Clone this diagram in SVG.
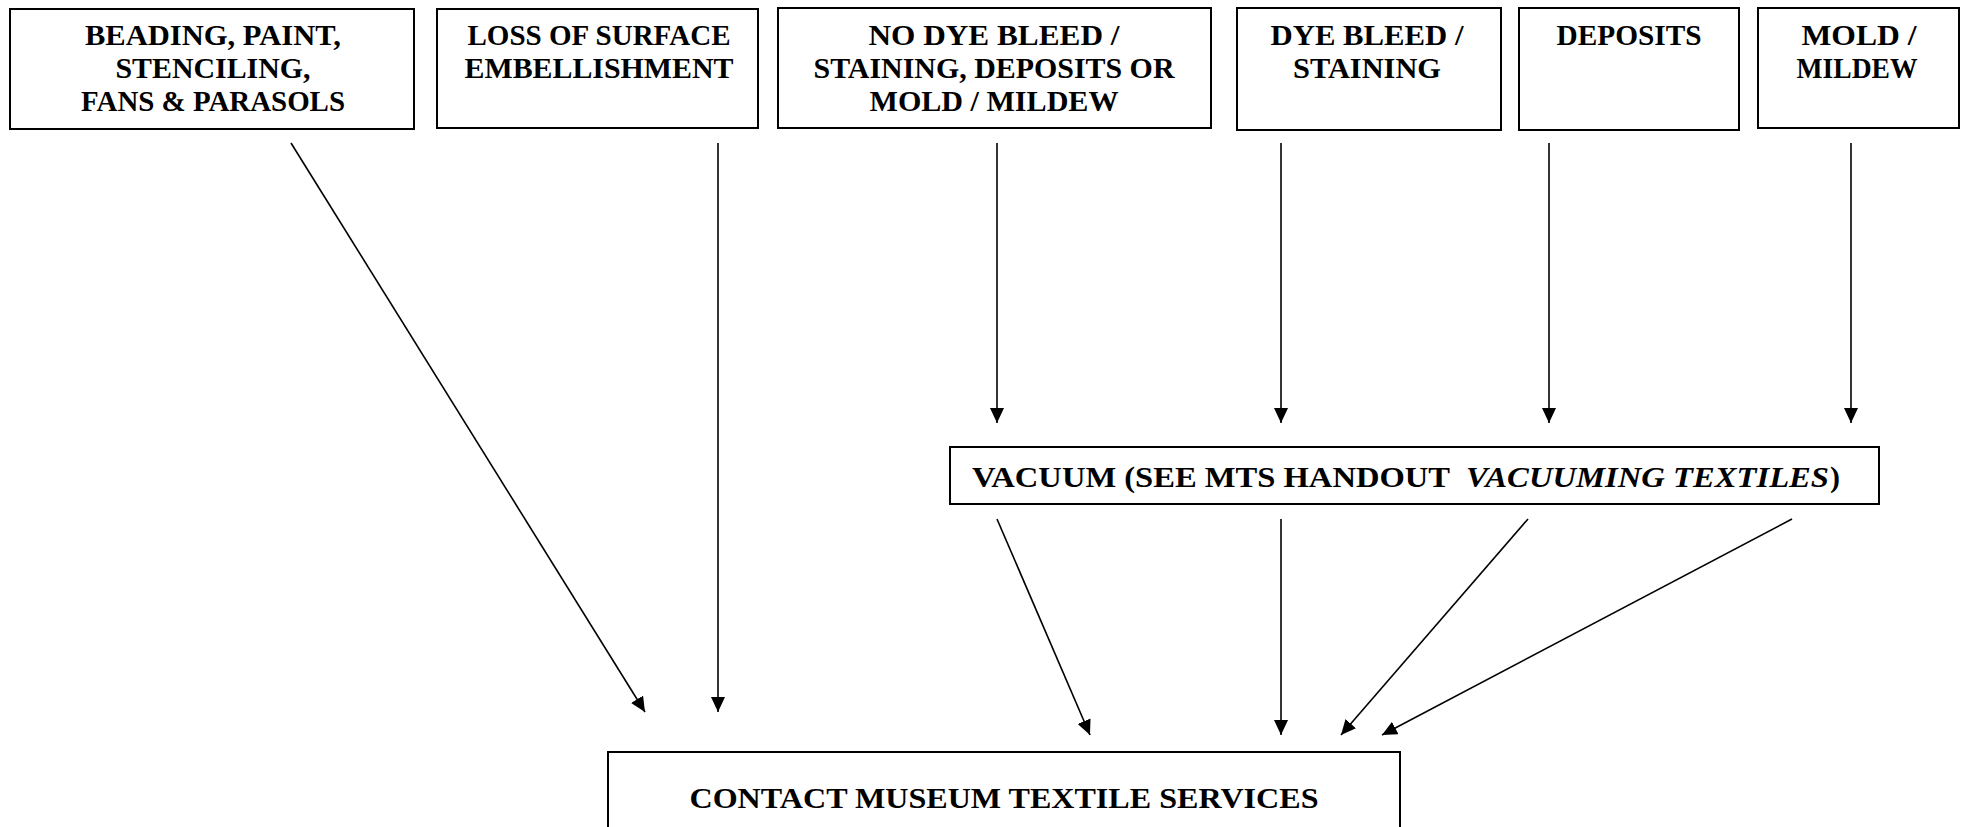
<svg xmlns="http://www.w3.org/2000/svg" width="1965" height="827" viewBox="0 0 1965 827">
<style>
.box{fill:#fff;stroke:#000;stroke-width:2}
.t{font-family:"Liberation Serif","Times New Roman",serif;font-weight:bold;font-size:30px;fill:#000;text-anchor:middle}
.v{font-family:"Liberation Serif","Times New Roman",serif;font-weight:bold;font-size:30px;fill:#000}
.c{fill:none;stroke:#000;stroke-width:1.6;marker-end:url(#ah)}
</style>
<defs>
<marker id="ah" markerUnits="userSpaceOnUse" markerWidth="16" markerHeight="14" viewBox="0 0 16 14" refX="15" refY="7" orient="auto">
<path d="M0,0 L15,7 L0,14 Z" fill="#000"/>
</marker>
</defs>
<rect width="1965" height="827" fill="#fff"/>
<g id="n1"><rect class="box" x="10" y="9" width="404" height="120"/>
<text class="t" x="213" y="45" textLength="256" lengthAdjust="spacingAndGlyphs">BEADING, PAINT,</text>
<text class="t" x="213" y="78" textLength="195" lengthAdjust="spacingAndGlyphs">STENCILING,</text>
<text class="t" x="213" y="111" textLength="264" lengthAdjust="spacingAndGlyphs">FANS &amp; PARASOLS</text></g>
<g id="n2"><rect class="box" x="437" y="9" width="321" height="119"/>
<text class="t" x="599" y="45" textLength="263" lengthAdjust="spacingAndGlyphs">LOSS OF SURFACE</text>
<text class="t" x="599" y="78" textLength="269" lengthAdjust="spacingAndGlyphs">EMBELLISHMENT</text></g>
<g id="n3"><rect class="box" x="778" y="8" width="433" height="120"/>
<text class="t" x="994" y="45" textLength="251" lengthAdjust="spacingAndGlyphs">NO DYE BLEED /</text>
<text class="t" x="994" y="78" textLength="361" lengthAdjust="spacingAndGlyphs">STAINING, DEPOSITS OR</text>
<text class="t" x="994" y="111" textLength="249" lengthAdjust="spacingAndGlyphs">MOLD / MILDEW</text></g>
<g id="n4"><rect class="box" x="1237" y="8" width="264" height="122"/>
<text class="t" x="1367" y="45" textLength="193" lengthAdjust="spacingAndGlyphs">DYE BLEED /</text>
<text class="t" x="1367" y="78" textLength="148" lengthAdjust="spacingAndGlyphs">STAINING</text></g>
<g id="n5"><rect class="box" x="1519" y="8" width="220" height="122"/>
<text class="t" x="1629" y="45" textLength="145" lengthAdjust="spacingAndGlyphs">DEPOSITS</text></g>
<g id="n6"><rect class="box" x="1758" y="8" width="201" height="120"/>
<text class="t" x="1859" y="45" textLength="115" lengthAdjust="spacingAndGlyphs">MOLD /</text>
<text class="t" x="1857" y="78" textLength="121" lengthAdjust="spacingAndGlyphs">MILDEW</text></g>
<g id="vacuum"><rect class="box" x="950" y="447" width="929" height="57"/>
<text class="v" x="972" y="487" textLength="478" lengthAdjust="spacingAndGlyphs">VACUUM (SEE MTS HANDOUT</text>
<text class="v" x="1466" y="487" font-style="italic" textLength="363" lengthAdjust="spacingAndGlyphs">VACUUMING TEXTILES</text>
<text class="v" x="1830" y="487">)</text></g>
<g id="contact"><rect class="box" x="608" y="752" width="792" height="90"/>
<text class="t" x="1004" y="808" textLength="629" lengthAdjust="spacingAndGlyphs">CONTACT MUSEUM TEXTILE SERVICES</text></g>
<g id="connectors">
<line class="c" x1="291" y1="143" x2="645" y2="712"/>
<line class="c" x1="718" y1="143" x2="718" y2="712"/>
<line class="c" x1="997" y1="143" x2="997" y2="423"/>
<line class="c" x1="1281" y1="143" x2="1281" y2="423"/>
<line class="c" x1="1549" y1="143" x2="1549" y2="423"/>
<line class="c" x1="1851" y1="143" x2="1851" y2="423"/>
<line class="c" x1="997" y1="519" x2="1090" y2="735"/>
<line class="c" x1="1281" y1="519" x2="1281" y2="735"/>
<line class="c" x1="1528" y1="519" x2="1341" y2="735"/>
<line class="c" x1="1792" y1="519" x2="1382" y2="735"/>
</g>
</svg>
